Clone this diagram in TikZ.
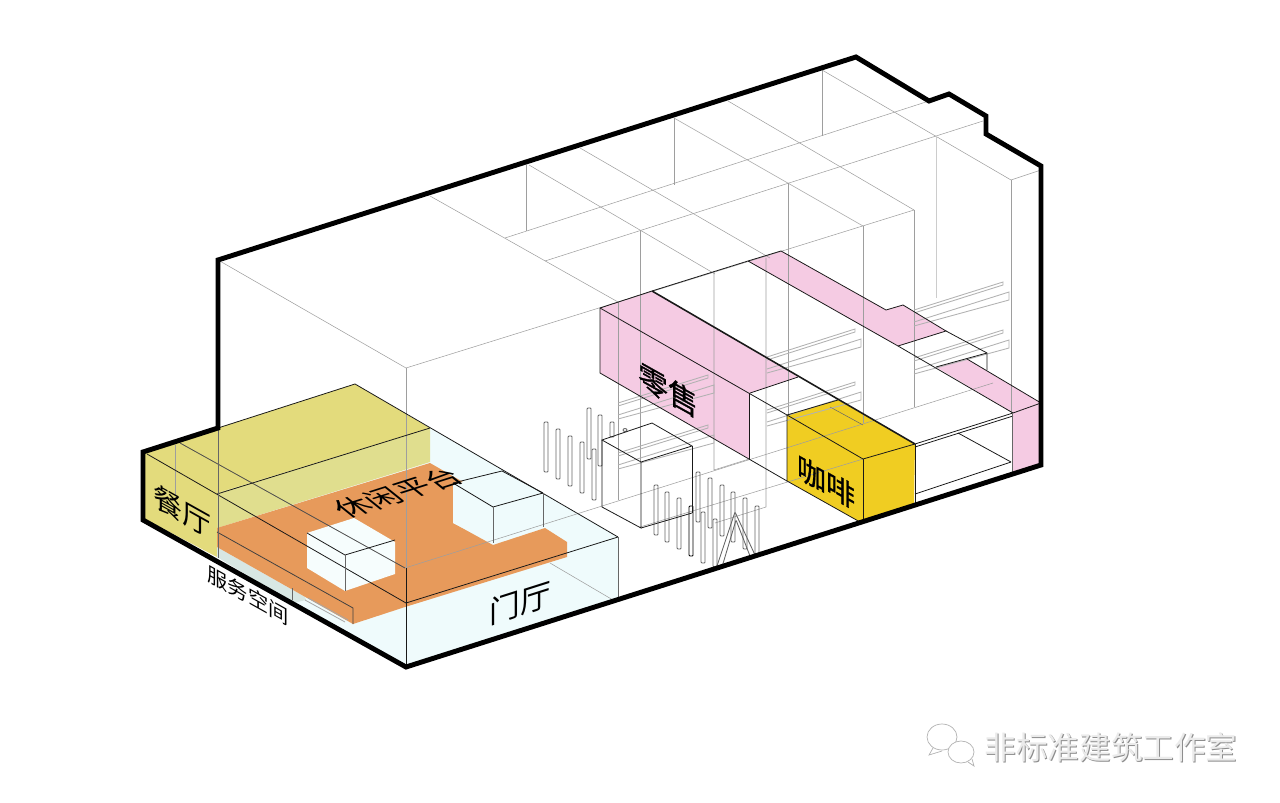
\documentclass[tikz,border=0pt]{standalone}
\usepackage{fontspec}
\setmainfont{Noto Sans CJK SC}
\newfontfamily\heavyfont[FakeBold=1]{Noto Sans CJK SC}
\definecolor{lobbycyan}{HTML}{EFFBFC}
\definecolor{boxcyan}{HTML}{F6FDFD}
\definecolor{platorange}{HTML}{E79A5B}
\definecolor{dinyellow}{HTML}{E3DB7C}
\definecolor{dinpale}{HTML}{E0DE8E}
\definecolor{retailpink}{HTML}{F5CBE3}
\definecolor{cafeyellow}{HTML}{F0CD22}
\definecolor{servgrey}{HTML}{D8E7E3}
\begin{document}
\begin{tikzpicture}[x=0.02cm, y=-0.02cm,
    outline/.style={line width=2.8pt, black, line join=miter},
    gridline/.style={line width=0.3pt, black!38},
    inkline/.style={line width=0.45pt, black!90},
    railline/.style={line width=0.5pt, black!30},
    post/.style={line width=0.5pt, black!60, rounded corners=0.5pt},
    zonetext/.style={inner sep=0pt, text=black}]
  \useasboundingbox (0,0) rectangle (1280,803);

  % Floor and zone fills
  \fill[lobbycyan] (430,428) -- (618,537) -- (618,600) -- (406,667) -- (217,557) -- (217,528) -- (430,462) -- cycle;
  \fill[dinpale] (217,493) -- (430,428) -- (430,462) -- (217,528) -- cycle;
  \fill[dinyellow] (143,452) -- (218,428) -- (355,384) -- (430,428) -- (217,493) -- (217,557) -- (143,518) -- cycle;
  \fill[servgrey] (217,547) -- (305,597) -- (306,600) -- (293,603) -- (217,557) -- cycle;
  \fill[platorange] (430,463) -- (463,482) -- (453,485) -- (453,523) -- (493,545) -- (545,528) -- (567,542)
    -- (567,557) -- (405,607) -- (353,624) -- (217,547) -- (217,528) -- cycle;
  \fill[boxcyan] (307,533) -- (354,518) -- (395,542) -- (395,574) -- (345,591) -- (307,568) -- cycle;
  \fill[lobbycyan] (453,485) -- (502,471) -- (543,493) -- (543,527) -- (493,543) -- (453,523) -- cycle;
  \fill[retailpink] (600,308) -- (652,291) -- (798,377) -- (750,393) -- (749,459) -- (600,373) -- cycle;
  \fill[retailpink] (748,261) -- (781,251) -- (886,310) -- (903,305) -- (946,331) -- (898,346) -- cycle;
  \fill[retailpink] (936,367) -- (967,359) -- (1041,403) -- (1041,465) -- (1012,474) -- (1013,413) -- cycle;
  \fill[cafeyellow] (787,415) -- (838,400) -- (915,444) -- (914,504) -- (860,522) -- (787,481) -- cycle;

  % Roof grid and walls
  \draw[gridline] (218,260) -- (406,368) -- (914,210);
  \draw[gridline] (406,368) -- (406,568);
  \draw[gridline] (430,196) -- (618,302);
  \draw[gridline] (505,238) -- (929,101);
  \draw[gridline] (545,261) -- (983,121);
  \draw[gridline] (529,165) -- (715,274);
  \draw[gridline] (580,148) -- (770,258);
  \draw[gridline] (674,118) -- (863,226);
  \draw[gridline] (728,101) -- (914,210);
  \draw[gridline] (822,70) -- (1011,180) -- (1041,170);
  \draw[gridline] (526,165) -- (526,231);
  \draw[gridline] (674,118) -- (674,185);
  \draw[gridline] (822,70) -- (822,136);
  \draw[gridline] (618,302) -- (618,500);
  \draw[gridline] (640,230) -- (640,462);
  \draw[gridline] (714,271) -- (714,470) -- (749,459);
  \draw[gridline] (766,258) -- (766,507) -- (715,523);
  \draw[gridline] (788,183) -- (788,415);
  \draw[gridline] (863,226) -- (863,423);
  \draw[gridline] (914,210) -- (914,407);
  \draw[gridline, black!20] (936,136) -- (936,298);
  \draw[gridline] (1011,180) -- (1011,413);
  \draw[gridline] (405,568) -- (993,383);
  \draw[gridline] (640,527) -- (863,459);
  \draw[gridline] (550,563) -- (613,600);
  \draw[gridline] (175,445) -- (175,495);
  \draw[gridline, black!60] (830,407) -- (863,425);

  % Rails behind the walls
  \foreach \railx/\raily/\raillen in {767/357/88, 767/410/88, 618/403/90, 618/453/90, 914/310/89, 914/358/89} {
    \draw[railline] (\railx,\raily) -- ++(\raillen,-28) -- ++(0,3) -- ++(-\raillen,28);
    \draw[railline] (\railx,\raily+12) -- ++(\raillen+6,-30) -- ++(0,8) -- ++(-\raillen-6,26);
  }

  % Posts
  \foreach \postx/\posttop/\postend in {546/422/472, 558/429/479, 570/436/486, 582/442/493, 594/449/500, 589/408/459, 600/415/466, 612/422/437,
      656/485/535, 667/492/542, 679/498/549, 703/512/563, 715/519/567,
      698/472/522, 710/478/528, 722/485/536, 733/492/542, 745/498/549, 757/506/555} {
    \draw[post] (\postx-2,\posttop) rectangle (\postx+2,\postend);
  }
  \draw[post, black] (689,506) rectangle (693,556);
  \draw[post] (625,430) ellipse (2 and 1.5);
  \draw[post] (717,566) -- (735,512) -- (755,555);
  \draw[post] (722,567) -- (736,520) -- (750,556);

  % Block in the hall
  \draw[inkline] (602,440) -- (652,423) -- (692,446) -- (641,462) -- cycle;
  \draw[inkline] (602,440) -- (602,507) -- (641,528) -- (641,462);
  \draw[inkline] (692,446) -- (692,513);
  \draw[inkline] (641,528) -- (692,513);

  % Retail, cafe and upper volume lines
  \draw[inkline] (600,308) -- (652,291) -- (748,261) -- (781,251) -- (886,310) -- (903,305) -- (946,331) -- (898,346);
  \draw[inkline] (748,261) -- (898,346);
  \draw[inkline] (600,308) -- (600,373) -- (787,481);
  \draw[inkline] (600,308) -- (787,415);
  \draw[inkline, line width=0.9pt] (652,291) -- (915,444);
  \draw[inkline] (750,393) -- (798,377);
  \draw[inkline] (749,393) -- (749,459);
  \draw[inkline] (898,346) -- (1013,413) -- (1041,403);
  \draw[inkline] (946,331) -- (987,353) -- (987,370);
  \draw[inkline] (987,353) -- (936,367);
  \draw[inkline] (967,359) -- (1041,403);
  \draw[inkline] (787,415) -- (787,481) -- (860,522);
  \draw[inkline] (787,415) -- (838,400);
  \draw[inkline] (787,415) -- (863,459) -- (915,444);
  \draw[inkline] (863,459) -- (863,520);
  \draw[inkline] (915,444) -- (915,504);
  \draw[inkline] (915,444) -- (1013,413);
  \draw[inkline] (915,447) -- (1013,416);
  \draw[inkline] (915,494) -- (1011,462);
  \draw[inkline] (958,433) -- (1011,462);
  \draw[inkline, black!60] (1012,413) -- (1012,474);

  % Dining, platform and lobby lines
  \draw[inkline] (218,428) -- (355,384) -- (618,537);
  \draw[inkline] (147,454) -- (406,603) -- (618,537);
  \draw[inkline, black!70] (180,443) -- (405,568);
  \draw[inkline] (217,494) -- (430,428);
  \draw[inkline, black!75] (217,532) -- (353,608) -- (353,624);
  \draw[inkline, black!60] (218,428) -- (218,558);
  \draw[inkline] (406,568) -- (406,667);
  \draw[inkline, black!60] (618,537) -- (618,600);
  \draw[inkline, black!60] (292,588) -- (292,600);
  \draw[inkline, black!35] (305,600) -- (345,622);
  \draw[inkline, black!35] (308,598) -- (348,620);
  \draw[inkline] (307,533) -- (345,555) -- (395,540);
  \draw[inkline, black!60] (345,555) -- (345,591);
  \draw[inkline] (453,483) -- (502,471) -- (543,493);
  \draw[inkline] (453,483) -- (493,507) -- (543,493);
  \draw[inkline, black!60] (493,507) -- (493,543);
  \draw[inkline, black!60] (543,493) -- (543,527);

  % Outer outline
  \draw[outline] (143,452) -- (218,428) -- (218,260) -- (856,57) -- (929,101) -- (949,94) -- (986,116) -- (986,134)
    -- (1041,166) -- (1041,465) -- (406,667) -- (143,520) -- cycle;

  % Labels
  \node[zonetext, font=\fontsize{16.5}{18}\selectfont, yslant=-0.56] (diningtext) at (182,511) {餐厅};
  \node[zonetext, font=\fontsize{17}{18}\selectfont, cm={1,0.318,-0.75,0.6,(0,0)}] (platformtext) at (398,493) {休闲平台};
  \node[zonetext, font=\fontsize{17.5}{18}\selectfont, yslant=0.318] (lobbytext) at (520,603) {门厅};
  \node[zonetext, font=\fontsize{11.5}{12}\selectfont, yslant=-0.56] (servicetext) at (248,595) {服务空间};
  \node[zonetext, font=\heavyfont\fontsize{17}{18}\selectfont, yslant=-0.56] (retailtext) at (668,390) {零售};
  \node[zonetext, font=\heavyfont\fontsize{16.5}{18}\selectfont, yslant=-0.56] (cafetext) at (826,482) {咖啡};

  % Watermark
  \draw[black!30, fill=white, line width=0.4pt] (942,737) ellipse (15 and 13);
  \draw[black!30, line width=0.4pt] (933,748) -- (929,755) -- (942,751);
  \draw[black!30, fill=white, line width=0.4pt] (961,752) ellipse (13 and 11);
  \draw[black!30, line width=0.4pt] (968,762) -- (974,766) -- (972,759);
  \node[inner sep=0pt, text=black!45, font=\fontsize{18}{19}\selectfont] (markshadow) at (1112,748) {非标准建筑工作室};
  \node[inner sep=0pt, text=black!8, font=\fontsize{18}{19}\selectfont] (marktext) at (1111,747) {非标准建筑工作室};
\end{tikzpicture}
\end{document}
